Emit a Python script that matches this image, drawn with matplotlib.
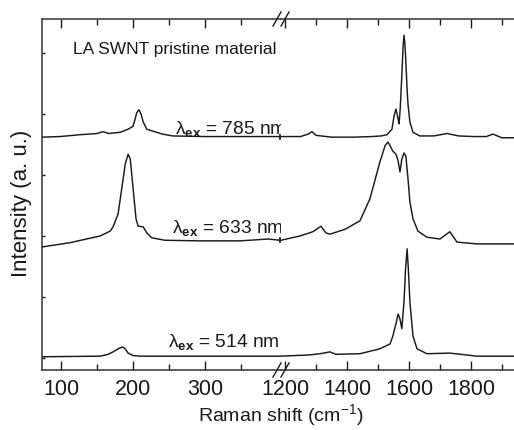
import matplotlib
matplotlib.use("Agg")
import numpy as np
import matplotlib.pyplot as plt
from matplotlib.ticker import FixedLocator, NullFormatter

# -----------------------------
# Data (Raman shift in cm^-1, offset intensity in a.u.)
# -----------------------------
shift_785 = [73, 98, 126, 150, 158, 166, 182, 193, 200, 205, 208, 211, 214, 219, 227, 241, 255, 300, 350, 405,
             1187, 1250, 1275, 1287, 1300, 1350, 1420, 1480, 1510, 1529, 1545, 1552, 1558, 1565, 1568, 1572,
             1578, 1581, 1584, 1587, 1590, 1594, 1597, 1603, 1613, 1635, 1680, 1723, 1760, 1810, 1850, 1871,
             1900, 1939]
int_785 = [3.62, 3.63, 3.66, 3.68, 3.71, 3.68, 3.70, 3.75, 3.80, 4.02, 4.07, 4.00, 3.87, 3.75, 3.72, 3.67, 3.64,
           3.63, 3.63, 3.63,
           3.63, 3.63, 3.67, 3.71, 3.65, 3.62, 3.62, 3.63, 3.64, 3.66, 3.75, 3.97, 4.08, 3.92, 3.84, 4.10,
           4.75, 5.10, 5.29, 5.15, 4.85, 4.40, 4.15, 3.87, 3.70, 3.64, 3.64, 3.68, 3.64, 3.63, 3.63, 3.67,
           3.61, 3.61]

shift_633 = [73, 112, 154, 168, 172, 179, 185, 189, 193, 196, 200, 204, 207, 214, 219, 226, 244, 293, 349, 388, 405,
             1187, 1248, 1290, 1316, 1332, 1345, 1394, 1442, 1474, 1506, 1523, 1532, 1539, 1548, 1558, 1565,
             1571, 1577, 1584, 1590, 1597, 1603, 1613, 1629, 1658, 1700, 1732, 1755, 1819, 1939]
int_633 = [1.82, 1.89, 2.00, 2.08, 2.15, 2.36, 2.85, 3.18, 3.34, 3.26, 2.77, 2.28, 2.16, 2.15, 2.05, 1.97, 1.93,
           1.92, 1.92, 1.95, 1.93,
           1.93, 2.00, 2.07, 2.16, 2.05, 2.03, 2.11, 2.25, 2.61, 3.21, 3.48, 3.54, 3.48, 3.39, 3.34, 3.23,
           3.05, 3.26, 3.36, 3.31, 2.93, 2.56, 2.28, 2.08, 1.98, 1.95, 2.07, 1.90, 1.87, 1.87]

shift_514 = [73, 154, 165, 172, 179, 185, 189, 193, 200, 210, 250, 350, 405,
             1187, 1280, 1313, 1345, 1364, 1442, 1506, 1539, 1548, 1558, 1565, 1571, 1577, 1584, 1589, 1594,
             1598, 1603, 1613, 1626, 1658, 1732, 1819, 1939]
int_514 = [0.02, 0.03, 0.06, 0.10, 0.15, 0.18, 0.15, 0.08, 0.04, 0.03, 0.03, 0.03, 0.03,
           0.03, 0.05, 0.07, 0.10, 0.06, 0.07, 0.15, 0.23, 0.36, 0.56, 0.72, 0.64, 0.48, 0.92, 1.46, 1.79,
           1.46, 0.92, 0.36, 0.15, 0.07, 0.08, 0.03, 0.03]

labels = ["785", "633", "514"]
label_pos = [(258, 3.69), (254, 2.07), (249, 0.20)]   # (shift, baseline) of each label

left_ticks = [100, 200, 300]
left_minor = [150, 250, 350]
right_ticks = [1200, 1400, 1600, 1800]
right_minor = [1300, 1500, 1700, 1900]

FONT = "Liberation Sans"
plt.rcParams["font.family"] = FONT
plt.rcParams["mathtext.fontset"] = "custom"
plt.rcParams["mathtext.rm"] = FONT
plt.rcParams["mathtext.it"] = FONT + ":italic"
plt.rcParams["mathtext.bf"] = FONT + ":bold"

INK = "#1a1a1a"
LW = 1.05

fig = plt.figure(figsize=(5.14, 4.31), dpi=100)
x0, x_break, y0, y1 = 42 / 514, 281 / 514, 1 - 371 / 431, 1 - 20 / 431
ax_l = fig.add_axes([x0, y0, x_break - x0, y1 - y0])
ax_r = fig.add_axes([x_break, y0, 1 - x_break, y1 - y0], sharey=ax_l)

for shift, inten in [(shift_785, int_785), (shift_633, int_633), (shift_514, int_514)]:
    s = np.array(shift)
    i = np.array(inten)
    low = s < 1000
    ax_l.plot(s[low], i[low], color=INK, lw=LW)
    ax_r.plot(s[~low], i[~low], color=INK, lw=LW)

# small break marks on the upper two curves
for shift, inten in [(shift_785, int_785), (shift_633, int_633)]:
    s = np.array(shift)
    i = np.array(inten)
    k = np.where(s < 1000)[0][-1]
    ax_l.plot(s[k], i[k], marker="|", ms=5, mew=1.2, color=INK, clip_on=False)

ax_l.set_xlim(73, 406)
ax_r.set_xlim(1187, 1939)
ax_l.set_ylim(-0.197, 5.557)

for ax, maj, mnr in [(ax_l, left_ticks, left_minor), (ax_r, right_ticks, right_minor)]:
    ax.xaxis.set_major_locator(FixedLocator(maj))
    ax.xaxis.set_minor_locator(FixedLocator(mnr))
    ax.tick_params(axis="x", which="both", direction="in", top=True, bottom=True,
                   colors=INK, labelsize=15.5, pad=6, width=1.0)
    ax.tick_params(axis="x", which="major", length=6.5)
    ax.tick_params(axis="x", which="minor", length=4)
    for sp in ax.spines.values():
        sp.set_linewidth(1.1)
        sp.set_color("#333333")

ax_l.spines["right"].set_visible(False)
ax_r.spines["left"].set_visible(False)
ax_r.spines["right"].set_visible(False)

ax_l.set_yticks(range(0, 6))
ax_l.yaxis.set_major_formatter(NullFormatter())
ax_l.tick_params(axis="y", direction="in", length=2, width=1.0, colors=INK)
ax_r.tick_params(axis="y", left=False, right=False, labelleft=False)

# texts
ax_l.text(116, 5.07, "LA SWNT pristine material", fontsize=12.5, ha="left", va="center", color=INK)
for lab, (xs, yb) in zip(labels, label_pos):
    ax_l.text(xs, yb, r"λ$_{\mathbf{ex}}$ = " + lab + " nm", fontsize=13.8,
              ha="left", va="baseline", color=INK)

fig.text(281 / 514, 1 - 415 / 431, r"Raman shift (cm$^{-1}$)", fontsize=14,
         ha="center", va="center", color=INK)
fig.text(22 / 514, 1 - 203 / 431, "Intensity (a. u.)", fontsize=16, rotation=90,
         ha="center", va="center", color=INK)

# "//" break marks on the top and bottom spines
dx, dy = 4 / 514, 7 / 431
for yc in (y0, y1):
    for off in (-4 / 514, 4 / 514):
        xc = x_break + off
        fig.add_artist(plt.Line2D([xc - dx, xc + dx], [yc - dy, yc + dy],
                                  transform=fig.transFigure, color=INK, lw=1.0))

fig.savefig("out.png", dpi=100)
